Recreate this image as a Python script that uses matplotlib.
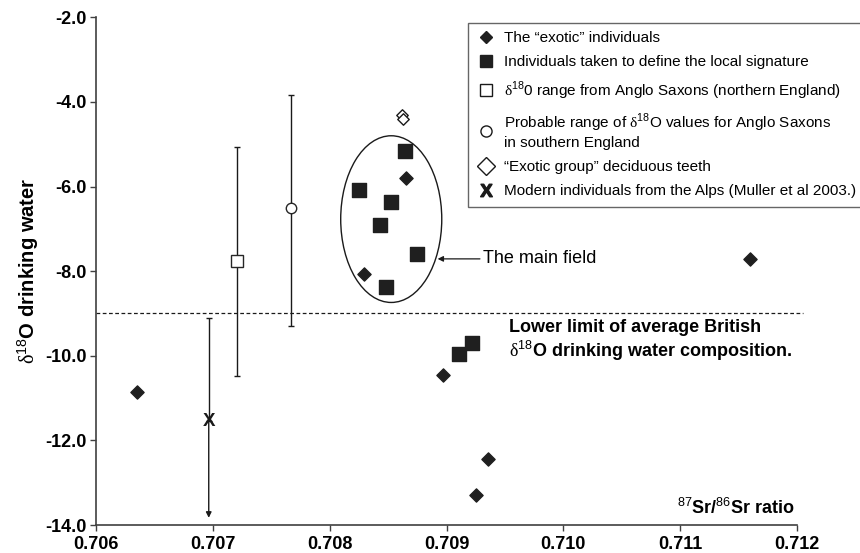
import matplotlib
matplotlib.use('agg')
import matplotlib.pyplot as plt
from matplotlib.patches import Ellipse
from matplotlib.lines import Line2D

plt.rcParams['font.family'] = ['Liberation Sans', 'DejaVu Sans']
plt.rcParams['mathtext.fontset'] = 'custom'
plt.rcParams['mathtext.rm'] = 'Liberation Sans'
plt.rcParams['mathtext.bf'] = 'Liberation Sans:bold'
plt.rcParams['mathtext.sf'] = 'Liberation Serif'

# exotic individuals (filled diamonds)
exotic_sr = [0.706354, 0.708654, 0.708295, 0.711599, 0.708968, 0.709353, 0.709253]
exotic_o = [-10.86, -5.79, -8.06, -7.71, -10.45, -12.45, -13.30]

# local signature individuals (filled squares)
local_sr = [0.708646, 0.708255, 0.708523, 0.708432, 0.708746, 0.708480, 0.709111, 0.709216]
local_o = [-5.16, -6.09, -6.37, -6.91, -7.60, -8.38, -9.97, -9.70]

# deciduous teeth (open diamonds)
teeth_sr = [0.708620, 0.708630]
teeth_o = [-4.32, -4.40]

# Anglo Saxon ranges: north (square), south (circle)
north_sr, north_o, north_lo, north_hi = 0.707204, -7.77, -10.47, -5.07
south_sr, south_o, south_lo, south_hi = 0.707670, -6.51, -9.29, -3.83

# modern Alps individuals
alps_sr, alps_o, alps_lo, alps_hi = 0.706965, -11.55, -13.83, -9.11

british_limit = -9.0

DELTA = r'$\mathsf{\delta}$'

fig = plt.figure(figsize=(8.6, 5.53), dpi=100)
ax = fig.add_axes([96 / 860, 1 - 525 / 553, (797 - 96) / 860, (525 - 17.3) / 553])

ax.set_xlim(0.706, 0.712)
ax.set_ylim(-14, -2)
ax.set_xticks([0.706, 0.707, 0.708, 0.709, 0.710, 0.711, 0.712])
ax.set_yticks([-2, -4, -6, -8, -10, -12, -14])
ax.set_xticklabels(['0.706', '0.707', '0.708', '0.709', '0.710', '0.711', '0.712'])
ax.set_yticklabels(['-2.0', '-4.0', '-6.0', '-8.0', '-10.0', '-12.0', '-14.0'])
for lab in ax.get_xticklabels() + ax.get_yticklabels():
    lab.set_fontweight('bold')
    lab.set_fontsize(13)
ax.tick_params(direction='out', length=4, width=1, color='0.25', pad=3)
ax.tick_params(axis='x', pad=4)
ax.spines['top'].set_visible(False)
ax.spines['right'].set_visible(False)
for s in ['left', 'bottom']:
    ax.spines[s].set_color('0.25')
    ax.spines[s].set_linewidth(1.2)

# dashed British limit line
ax.plot([0.706, 0.71205], [british_limit, british_limit], ls=(0, (3, 2)), color='0.1', lw=0.9, clip_on=False)

# error bars for the Anglo Saxon ranges
ax.errorbar([north_sr], [north_o], yerr=[[north_o - north_lo], [north_hi - north_o]],
            fmt='s', mfc='white', mec='0.15', ms=9, mew=1, ecolor='0.1', elinewidth=1, capsize=2.5, zorder=3)
ax.errorbar([south_sr], [south_o], yerr=[[south_o - south_lo], [south_hi - south_o]],
            fmt='o', mfc='white', mec='0.15', ms=7.5, mew=1, ecolor='0.1', elinewidth=1, capsize=2.5, zorder=3)

# Alps: cap on top, arrow down
ax.errorbar([alps_sr], [alps_o], yerr=[[0], [alps_hi - alps_o]], fmt='none', ecolor='0.1', elinewidth=1, capsize=2.5)
ax.annotate('', xy=(alps_sr, alps_lo), xytext=(alps_sr, alps_o),
            arrowprops=dict(arrowstyle='-|>', color='0.1', lw=1, mutation_scale=8, shrinkA=0, shrinkB=0))
ax.text(alps_sr, alps_o, 'X', fontsize=13.5, fontweight='bold', color='0.1', ha='center', va='center', zorder=4)

ax.scatter(exotic_sr, exotic_o, marker='D', s=45, color='0.12', zorder=4)
ax.scatter(local_sr, local_o, marker='s', s=88, color='0.12', zorder=4)
ax.scatter(teeth_sr, teeth_o, marker='D', s=34, facecolor='white', edgecolor='0.1', lw=1, zorder=4)

# main field ellipse
ax.add_patch(Ellipse((0.708527, -6.77), 0.000865, 3.94, fill=False, ec='0.1', lw=1))
ax.annotate('The main field', xy=(0.708924, -7.71), xytext=(0.709310, -7.71),
            fontsize=13, va='center', ha='left',
            arrowprops=dict(arrowstyle='-|>', color='0.1', lw=0.9, mutation_scale=8, shrinkA=0, shrinkB=0))

ax.text(0.709535, -9.12, 'Lower limit of average British\n' + DELTA + r'$^{18}$O drinking water composition.',
        fontsize=13, fontweight='bold', va='top', ha='left', linespacing=1.2)
ax.text(0.71198, -13.75, r'$^{87}$Sr/$^{86}$Sr ratio', fontsize=13, fontweight='bold', ha='right', va='baseline')

ax.set_ylabel(DELTA + r'$^{18}$O drinking water', fontsize=14.5, fontweight='bold', labelpad=3)

handles = [
    Line2D([], [], marker='D', ls='none', color='0.12', ms=6.5),
    Line2D([], [], marker='s', ls='none', color='0.12', ms=8.5),
    Line2D([], [], marker='s', ls='none', mfc='white', mec='0.1', ms=8.5),
    Line2D([], [], marker='o', ls='none', mfc='white', mec='0.1', ms=8),
    Line2D([], [], marker='D', ls='none', mfc='white', mec='0.1', ms=9),
    Line2D([], [], marker=r'$\mathbf{X}$', ls='none', color='0.1', ms=9),
]
labels = [
    'The \u201cexotic\u201d individuals',
    'Individuals taken to define the local signature',
    DELTA + r'$^{18}$0 range from Anglo Saxons (northern England)',
    r'Probable range of ' + DELTA + r'$^{18}$O values for Anglo Saxons' + '\nin southern England',
    '\u201cExotic group\u201d deciduous teeth',
    'Modern individuals from the Alps (Muller et al 2003.)',
]
leg = ax.legend(handles, labels, loc='upper left', bbox_to_anchor=(468 / 860, 1 - 22.7 / 553),
                bbox_transform=fig.transFigure, fontsize=11, frameon=True, fancybox=False,
                edgecolor='0.25', handlelength=1.2, handletextpad=0.6, labelspacing=0.66,
                borderpad=0.55, borderaxespad=0)
leg.get_frame().set_linewidth(1)

plt.savefig('out.png', dpi=100)
plt.close()
